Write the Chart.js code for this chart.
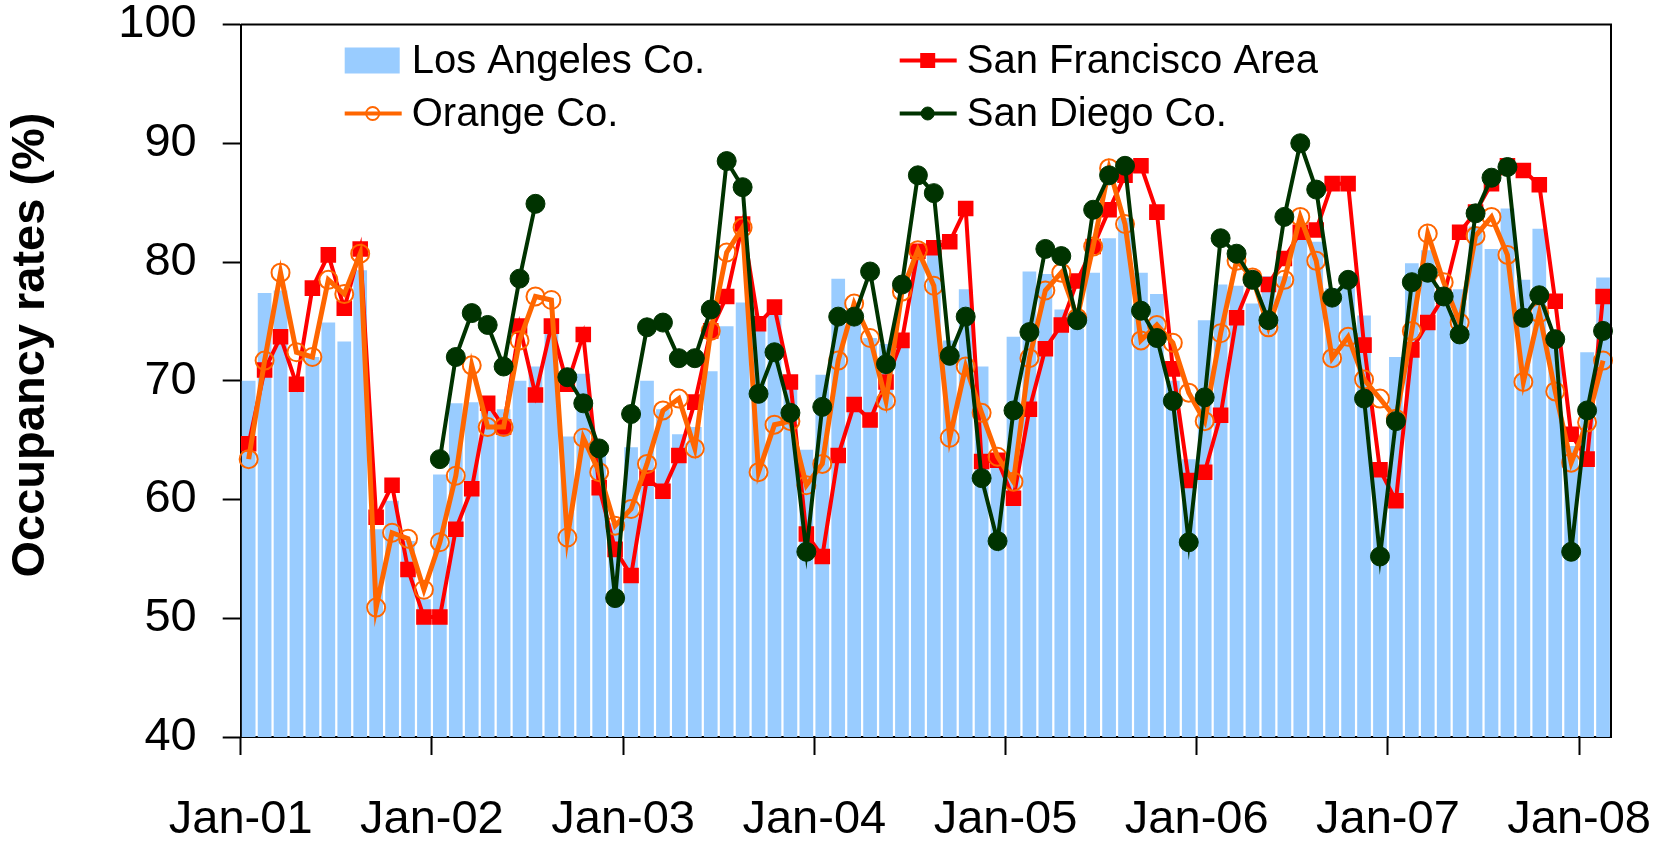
<!DOCTYPE html>
<html>
<head>
<meta charset="utf-8">
<script src="https://cdn.jsdelivr.net/npm/chart.js@4.4.1/dist/chart.umd.min.js"></script>
<style>
  html, body { margin: 0; padding: 0; background: #ffffff; }
  #wrap { width: 1672px; height: 843px; position: relative; }
  canvas { display: block; }
</style>
</head>
<body>
<div id="wrap"><canvas id="c" width="1672" height="843"></canvas></div>
<script>
// ---------- DATA ----------
const months = [
  'Jan-01','Feb-01','Mar-01','Apr-01','May-01','Jun-01','Jul-01','Aug-01','Sep-01','Oct-01','Nov-01','Dec-01',
  'Jan-02','Feb-02','Mar-02','Apr-02','May-02','Jun-02','Jul-02','Aug-02','Sep-02','Oct-02','Nov-02','Dec-02',
  'Jan-03','Feb-03','Mar-03','Apr-03','May-03','Jun-03','Jul-03','Aug-03','Sep-03','Oct-03','Nov-03','Dec-03',
  'Jan-04','Feb-04','Mar-04','Apr-04','May-04','Jun-04','Jul-04','Aug-04','Sep-04','Oct-04','Nov-04','Dec-04',
  'Jan-05','Feb-05','Mar-05','Apr-05','May-05','Jun-05','Jul-05','Aug-05','Sep-05','Oct-05','Nov-05','Dec-05',
  'Jan-06','Feb-06','Mar-06','Apr-06','May-06','Jun-06','Jul-06','Aug-06','Sep-06','Oct-06','Nov-06','Dec-06',
  'Jan-07','Feb-07','Mar-07','Apr-07','May-07','Jun-07','Jul-07','Aug-07','Sep-07','Oct-07','Nov-07','Dec-07',
  'Jan-08','Feb-08'
];

const tickLabels = ['Jan-01','Jan-02','Jan-03','Jan-04','Jan-05','Jan-06','Jan-07','Jan-08'];
const yTicks = [40, 50, 60, 70, 80, 90, 100];

const losAngeles = [
  70.0, 77.4, 77.6, 69.5, 72.0, 74.9, 73.3, 79.3, 57.5, 59.9, 56.5, 51.6,
  62.1, 68.1, 68.2, 68.3, 67.6, 70.0, 71.2, 74.0, 65.3, 70.6, 64.2, 58.0,
  64.4, 70.0, 67.6, 65.5, 66.1, 70.8, 74.6, 76.6, 74.5, 76.0, 69.8, 64.2,
  70.5, 78.6, 76.1, 73.6, 73.1, 73.3, 80.6, 80.8, 73.4, 77.7, 71.2, 63.5,
  73.7, 79.2, 79.0, 76.0, 74.4, 79.1, 82.0, 83.7, 79.1, 77.3, 70.0, 63.4,
  75.1, 78.1, 78.0, 76.5, 78.8, 78.8, 81.9, 81.7, 77.8, 78.0, 75.5, 62.0,
  72.0, 79.9, 81.0, 77.6, 77.7, 83.0, 81.1, 84.5, 78.5, 82.8, 74.1, 64.5,
  72.4, 78.7
];

const sanFrancisco = [
  64.7, 70.9, 73.7, 69.7, 77.8, 80.6, 76.1, 81.1, 58.5, 61.2, 54.1, 50.1,
  50.1, 57.5, 60.9, 68.1, 66.1, 74.6, 68.8, 74.6, 69.7, 73.9, 61.0, 55.8,
  53.6, 61.8, 60.7, 63.7, 68.2, 74.2, 77.1, 83.2, 74.8, 76.2, 69.9, 57.1,
  55.2, 63.7, 68.0, 66.7, 69.9, 73.4, 80.9, 81.2, 81.7, 84.5, 63.2, 63.3,
  60.1, 67.6, 72.7, 74.7, 78.4, 81.3, 84.4, 87.3, 88.1, 84.2, 71.0, 61.6,
  62.3, 67.1, 75.3, 78.6, 78.1, 80.3, 82.5, 82.7, 86.6, 86.6, 73.0, 62.5,
  59.9, 72.6, 74.9, 77.1, 82.5, 84.2, 86.6, 88.1, 87.7, 86.5, 76.7, 65.5,
  63.4, 77.1
];

const orangeCo = [
  63.4, 71.7, 79.1, 72.4, 72.0, 78.5, 77.3, 80.7, 50.9, 57.2, 56.7, 52.4,
  56.4, 62.0, 71.3, 66.1, 66.1, 73.4, 77.1, 76.8, 56.8, 65.2, 62.3, 57.8,
  59.2, 63.0, 67.5, 68.5, 64.3, 74.2, 80.8, 82.9, 62.3, 66.3, 66.6, 61.2,
  63.0, 71.7, 76.5, 73.6, 68.3, 77.5, 81.0, 78.0, 65.2, 71.2, 67.3, 63.6,
  61.5, 71.9, 77.6, 79.1, 75.3, 81.3, 87.9, 83.2, 73.4, 74.7, 73.2, 69.0,
  66.6, 74.0, 80.1, 78.7, 74.5, 78.5, 83.8, 80.1, 71.9, 73.7, 70.1, 68.5,
  66.8, 74.2, 82.4, 78.3, 74.9, 82.2, 83.8, 80.6, 69.9, 75.7, 69.1, 63.1,
  66.5, 71.7
];

const sanDiego = [
  null, null, null, null, null, null, null, null, null, null, null, null,
  63.4, 72.0, 75.7, 74.7, 71.2, 78.6, 84.9, null, 70.3, 68.1, 64.3, 51.7,
  67.2, 74.5, 74.9, 71.9, 71.9, 76.0, 88.5, 86.3, 68.9, 72.4, 67.3, 55.6,
  67.8, 75.4, 75.4, 79.2, 71.4, 78.1, 87.3, 85.8, 72.1, 75.4, 61.8, 56.5,
  67.5, 74.1, 81.1, 80.5, 75.1, 84.4, 87.3, 88.1, 75.9, 73.6, 68.3, 56.4,
  68.6, 82.0, 80.7, 78.5, 75.1, 83.8, 90.0, 86.1, 77.0, 78.5, 68.5, 55.2,
  66.6, 78.3, 79.1, 77.1, 73.9, 84.1, 87.1, 88.0, 75.3, 77.2, 73.5, 55.6,
  67.5, 74.2
];

const yTitle = 'Occupancy rates (%)';

// ---------- STYLE ----------
const FONT = '"Liberation Sans", Arial, Helvetica, sans-serif';
Chart.defaults.font.family = FONT;
Chart.defaults.color = '#000000';

// frame around the plot area (top and right sides)
const framePlugin = {
  id: 'frame',
  afterDraw(chart) {
    const { ctx, chartArea: a } = chart;
    ctx.save();
    ctx.strokeStyle = '#000000';
    ctx.lineWidth = 2;
    ctx.beginPath();
    ctx.moveTo(a.left, a.top);
    ctx.lineTo(a.right, a.top);
    ctx.lineTo(a.right, a.bottom);
    ctx.stroke();
    ctx.restore();
  }
};

// rotated y-axis title
const yTitlePlugin = {
  id: 'yTitle',
  afterDraw(chart) {
    const { ctx } = chart;
    ctx.save();
    ctx.translate(31, 345);
    ctx.rotate(-Math.PI / 2);
    ctx.font = 'bold 47px ' + FONT;
    ctx.fillStyle = '#000000';
    ctx.textAlign = 'center';
    ctx.textBaseline = 'middle';
    ctx.fillText(yTitle, 0, 0);
    ctx.restore();
  }
};

// legend drawn inside the plot area, 2 columns x 2 rows
const insideLegend = {
  id: 'insideLegend',
  afterDraw(chart) {
    const { ctx, chartArea: a } = chart;
    const cols = [a.left + 104, a.left + 659];
    const rows = [a.top + 36, a.top + 89];
    chart.data.datasets.forEach((d, i) => {
      const x = cols[i % 2];
      const y = rows[Math.floor(i / 2)];
      ctx.save();
      if (d.type === 'bar') {
        ctx.fillStyle = d.backgroundColor;
        ctx.fillRect(x, y - 13, 55, 26);
      } else {
        ctx.strokeStyle = d.borderColor;
        ctx.lineWidth = d.legendLineWidth;
        ctx.beginPath();
        ctx.moveTo(x, y);
        ctx.lineTo(x + 57, y);
        ctx.stroke();
        const cx = x + 28;
        ctx.fillStyle = d.pointBackgroundColor;
        ctx.strokeStyle = d.pointBorderColor;
        ctx.lineWidth = d.pointBorderWidth;
        ctx.beginPath();
        if (d.pointStyle === 'rect') {
          ctx.rect(cx - 7.5, y - 7.5, 15, 15);
        } else {
          ctx.arc(cx, y, d.legendRadius, 0, Math.PI * 2);
        }
        ctx.fill();
        if (d.pointBorderWidth > 0) ctx.stroke();
      }
      ctx.fillStyle = '#000000';
      ctx.font = '40px ' + FONT;
      ctx.textAlign = 'left';
      ctx.textBaseline = 'middle';
      ctx.fillText(d.label, x + 67, y + 1);
      ctx.restore();
    });
  }
};

new Chart(document.getElementById('c'), {
  type: 'bar',
  data: {
    labels: months,
    datasets: [
      {
        type: 'bar', label: 'Los Angeles Co.', data: losAngeles,
        backgroundColor: '#99CCFF', borderWidth: 0,
        barPercentage: 0.86, categoryPercentage: 1.0,
        xAxisID: 'x', yAxisID: 'y', order: 4
      },
      {
        type: 'line', label: 'San Francisco Area', data: sanFrancisco,
        borderColor: '#FF0000', backgroundColor: '#FF0000', borderWidth: 4,
        pointStyle: 'rect', pointRadius: 11, pointBorderWidth: 0,
        pointBackgroundColor: '#FF0000', pointBorderColor: '#FF0000',
        legendLineWidth: 4, tension: 0,
        xAxisID: 'x', yAxisID: 'y', order: 3
      },
      {
        type: 'line', label: 'Orange Co.', data: orangeCo,
        borderColor: '#FF6600', backgroundColor: 'rgba(0,0,0,0)', borderWidth: 5,
        pointStyle: 'circle', pointRadius: 9, pointBorderWidth: 2,
        pointBackgroundColor: 'rgba(0,0,0,0)', pointBorderColor: '#FF6600',
        legendLineWidth: 4, legendRadius: 6.5, tension: 0,
        xAxisID: 'x', yAxisID: 'y', order: 2
      },
      {
        type: 'line', label: 'San Diego Co.', data: sanDiego,
        borderColor: '#003300', backgroundColor: '#003300', borderWidth: 4,
        pointStyle: 'circle', pointRadius: 9.5, pointBorderWidth: 1,
        pointBackgroundColor: '#003300', pointBorderColor: '#003300',
        legendLineWidth: 4, legendRadius: 6.5, tension: 0, spanGaps: false,
        xAxisID: 'x', yAxisID: 'y', order: 1
      }
    ]
  },
  options: {
    responsive: false,
    animation: false,
    devicePixelRatio: 1,
    layout: { padding: { top: 24.5, right: 61, bottom: 0, left: 0 } },
    plugins: { legend: { display: false }, tooltip: { enabled: false } },
    scales: {
      x: { type: 'category', display: false, offset: true },
      xt: {
        type: 'linear', position: 'bottom', min: 0, max: months.length,
        offset: false,
        afterBuildTicks: (s) => { s.ticks = tickLabels.map(l => ({ value: months.indexOf(l) })); },
        ticks: {
          callback: (v) => months[v],
          font: { size: 47, lineHeight: 1.2 }, padding: 37,
          maxRotation: 0, autoSkip: false, color: '#000000'
        },
        grid: { offset: false, drawOnChartArea: false, drawTicks: true, tickLength: 18, tickWidth: 2, tickColor: '#000000' },
        border: { display: true, color: '#000000', width: 2 },
        afterFit: (s) => { s.height = 106; s.paddingLeft = 0; s.paddingRight = 0; s.paddingTop = 0; s.paddingBottom = 0; }
      },
      y: {
        type: 'linear', position: 'left', min: 40, max: 100,
        afterBuildTicks: (s) => { s.ticks = yTicks.map(v => ({ value: v })); },
        ticks: { font: { size: 47, lineHeight: 1.0 }, padding: 26, color: '#000000' },
        grid: { drawOnChartArea: false, drawTicks: true, tickLength: 18, tickWidth: 2, tickColor: '#000000' },
        border: { display: true, color: '#000000', width: 2 },
        afterFit: (s) => { s.width = 240.7; s.paddingTop = 0; s.paddingBottom = 0; s.paddingLeft = 0; s.paddingRight = 0; }
      }
    }
  },
  plugins: [framePlugin, yTitlePlugin, insideLegend]
});
</script>
</body>
</html>
